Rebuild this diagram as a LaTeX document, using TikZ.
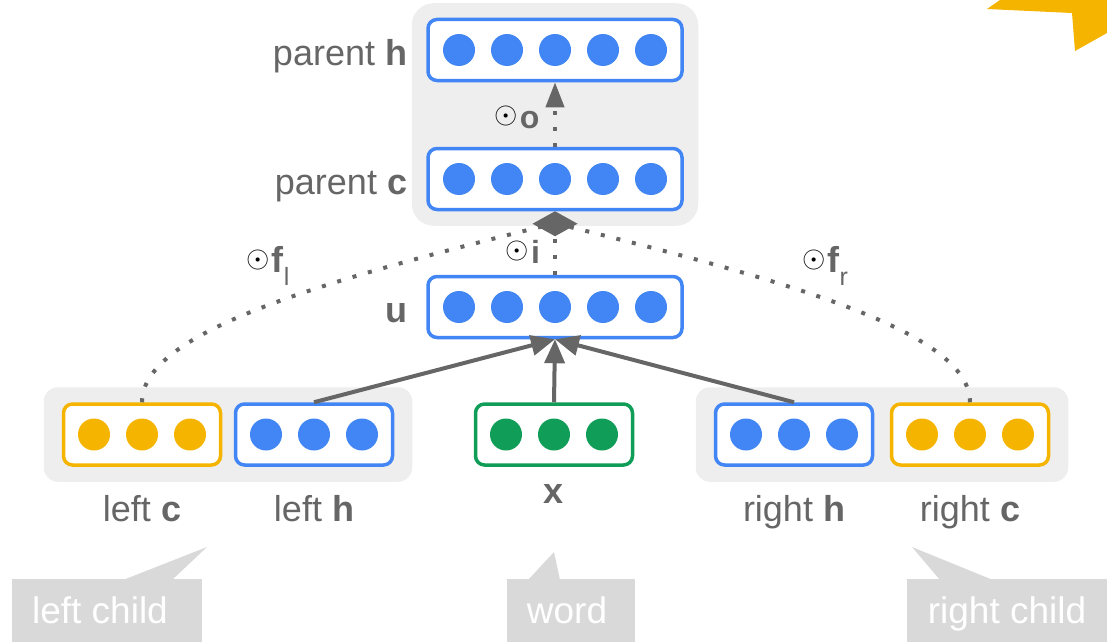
\documentclass[tikz,border=0pt]{standalone}
\usepackage{fontspec}
\setmainfont{Liberation Sans}
\usetikzlibrary{arrows.meta,positioning,fit,backgrounds}

\definecolor{gblue}{HTML}{4285F4}
\definecolor{gyellow}{HTML}{F4B400}
\definecolor{ggreen}{HTML}{0F9D58}
\definecolor{ink}{HTML}{666666}
\definecolor{panel}{HTML}{EEEEEE}
\definecolor{tag}{HTML}{D9D9D9}

% row of unit dots inside a vector box
\def\units(#1)[#2]#3{\foreach \k [evaluate=\k as \dx using 48*(\k-(#3+1)/2)] in {1,...,#3} \fill[#2] ([xshift=\dx pt]#1.center) circle (16);}
\newcommand{\dotop}{\raisebox{5pt}{\color{black}\scalebox{3}{\fontsize{10}{12}\selectfont$\odot$}}\hspace{2pt}}

\begin{document}
\begin{tikzpicture}[x=1pt, y=-1pt, font=\fontsize{36}{43}\selectfont, text=ink,
	vec/.style={draw=#1, line width=3.5pt, rounded corners=9pt, fill=white, minimum width=254pt, minimum height=61pt, inner sep=0pt},
	short/.style={vec=#1, minimum width=157pt},
	lbl/.style={inner sep=2pt, text height=26pt, text depth=0pt},
	gate/.style={inner sep=0pt, font=\fontsize{32}{38}\selectfont},
	flow/.style={draw=ink, line width=4pt, -{Triangle[length=24pt,width=20pt]}},
	peep/.style={draw=ink, line width=4pt, dash pattern=on 4pt off 12pt},
	group/.style={fill=panel, rounded corners=14pt, inner xsep=18pt, inner ysep=15pt},
	tagbox/.style={fill=tag, text=white, minimum height=63pt, text height=26pt, text depth=0pt, inner sep=0pt, font=\fontsize{37}{44}\selectfont}]
			%%%%% START %%%%%
			\useasboundingbox (0,0) rectangle (1107,642);
			
			\fill[gyellow] (1000,0) -- (987,9) -- (1072,13) -- (1075,51) -- (1107,33) -- (1107,0) -- cycle;
			
			% tree-lstm cell
			\node[vec=gblue] (parenth) at (555,50) {};
			\node[vec=gblue] (parentc) at (555,179) {};
			\node[vec=gblue] (u) at (555,307) {};
			
			\node[short=gyellow] (leftc) at (142,434.5) {};
			\node[short=gblue] (lefth) at (314,434.5) {};
			\node[short=ggreen] (word) at (554,434.5) {};
			\node[short=gblue] (righth) at (794,434.5) {};
			\node[short=gyellow] (rightc) at (970,434.5) {};
			
			\begin{scope}[on background layer]
				\node[group, rounded corners=22pt, inner sep=14.5pt, fit=(parenth)(parentc)] (parent) {};
				\node[group, fit=(leftc)(lefth)] (leftchild) {};
				\node[group, fit=(righth)(rightc)] (rightchild) {};
			\end{scope}
			
			\units(parenth)[gblue]{5}
			\units(parentc)[gblue]{5}
			\units(u)[gblue]{5}
			\units(leftc)[gyellow]{3}
			\units(lefth)[gblue]{3}
			\units(word)[ggreen]{3}
			\units(righth)[gblue]{3}
			\units(rightc)[gyellow]{3}
			
			\node[lbl, left=17pt of parenth, yshift=-2pt] (parenthlbl) {parent \textbf{h}};
			\node[lbl, left=17pt of parentc, yshift=-2pt] (parentclbl) {parent \textbf{c}};
			\node[lbl, left=17pt of u, yshift=-2pt] (ulbl) {\textbf{u}};
			\node[lbl, below=26.5pt of leftc] (leftclbl) {left \textbf{c}};
			\node[lbl, below=26.5pt of lefth] (lefthlbl) {left \textbf{h}};
			\node[lbl, below=9pt of word] (wordlbl) {\textbf{x}};
			\node[lbl, below=26.5pt of righth] (righthlbl) {right \textbf{h}};
			\node[lbl, below=26.5pt of rightc] (rightclbl) {right \textbf{c}};
			
			% gates
			\coordinate (join) at ([yshift=-12pt]parentc.south);
			\draw[peep] (leftc.north) .. controls +(0,-72) and +(-224,55.5) .. (join);
			\draw[peep] (rightc.north) .. controls +(0,-72) and +(224,55.5) .. (join);
			\draw[peep, -{Diamond[length=25pt,width=45pt]}] (u.north) -- (parentc.south);
			\draw[peep, -{Triangle[length=25pt,width=18pt]}] (parentc.north) -- (parenth.south);
			
			\draw[flow] (lefth.north) -- (u.south);
			\draw[flow] (word.north) -- (u.south);
			\draw[flow] (righth.north) -- (u.south);
			
			\node[gate] (ogate) at (517,117) {\dotop\textbf{o}};
			\node[gate] (igate) at (523,252) {\dotop\textbf{i}};
			\node[gate, font=\fontsize{36}{43}\selectfont] (flgate) at (268,266) {\dotop\textbf{f}\raisebox{-13pt}{\fontsize{25}{30}\selectfont l}};
			\node[gate, font=\fontsize{36}{43}\selectfont] (frgate) at (825,266) {\dotop\textbf{f}\raisebox{-13pt}{\fontsize{25}{30}\selectfont r}};
			
			% callouts
			\fill[tag] (123,580) -- (207,547) -- (172,580) -- cycle;
			\fill[tag] (528,580) -- (554,552) -- (560,580) -- cycle;
			\fill[tag] (940,580) -- (912,547) -- (993,580) -- cycle;
			\node[tagbox, minimum width=190pt] (lefttag) at (107,610.5) {\hspace{-14pt}left child};
			\node[tagbox, minimum width=128pt] (wordtag) at (571,610.5) {\hspace{-8pt}word};
			\node[tagbox, minimum width=200pt] (righttag) at (1007,610.5) {right child};
			
			%%%%% END %%%%%
		\end{tikzpicture}
\end{document}
